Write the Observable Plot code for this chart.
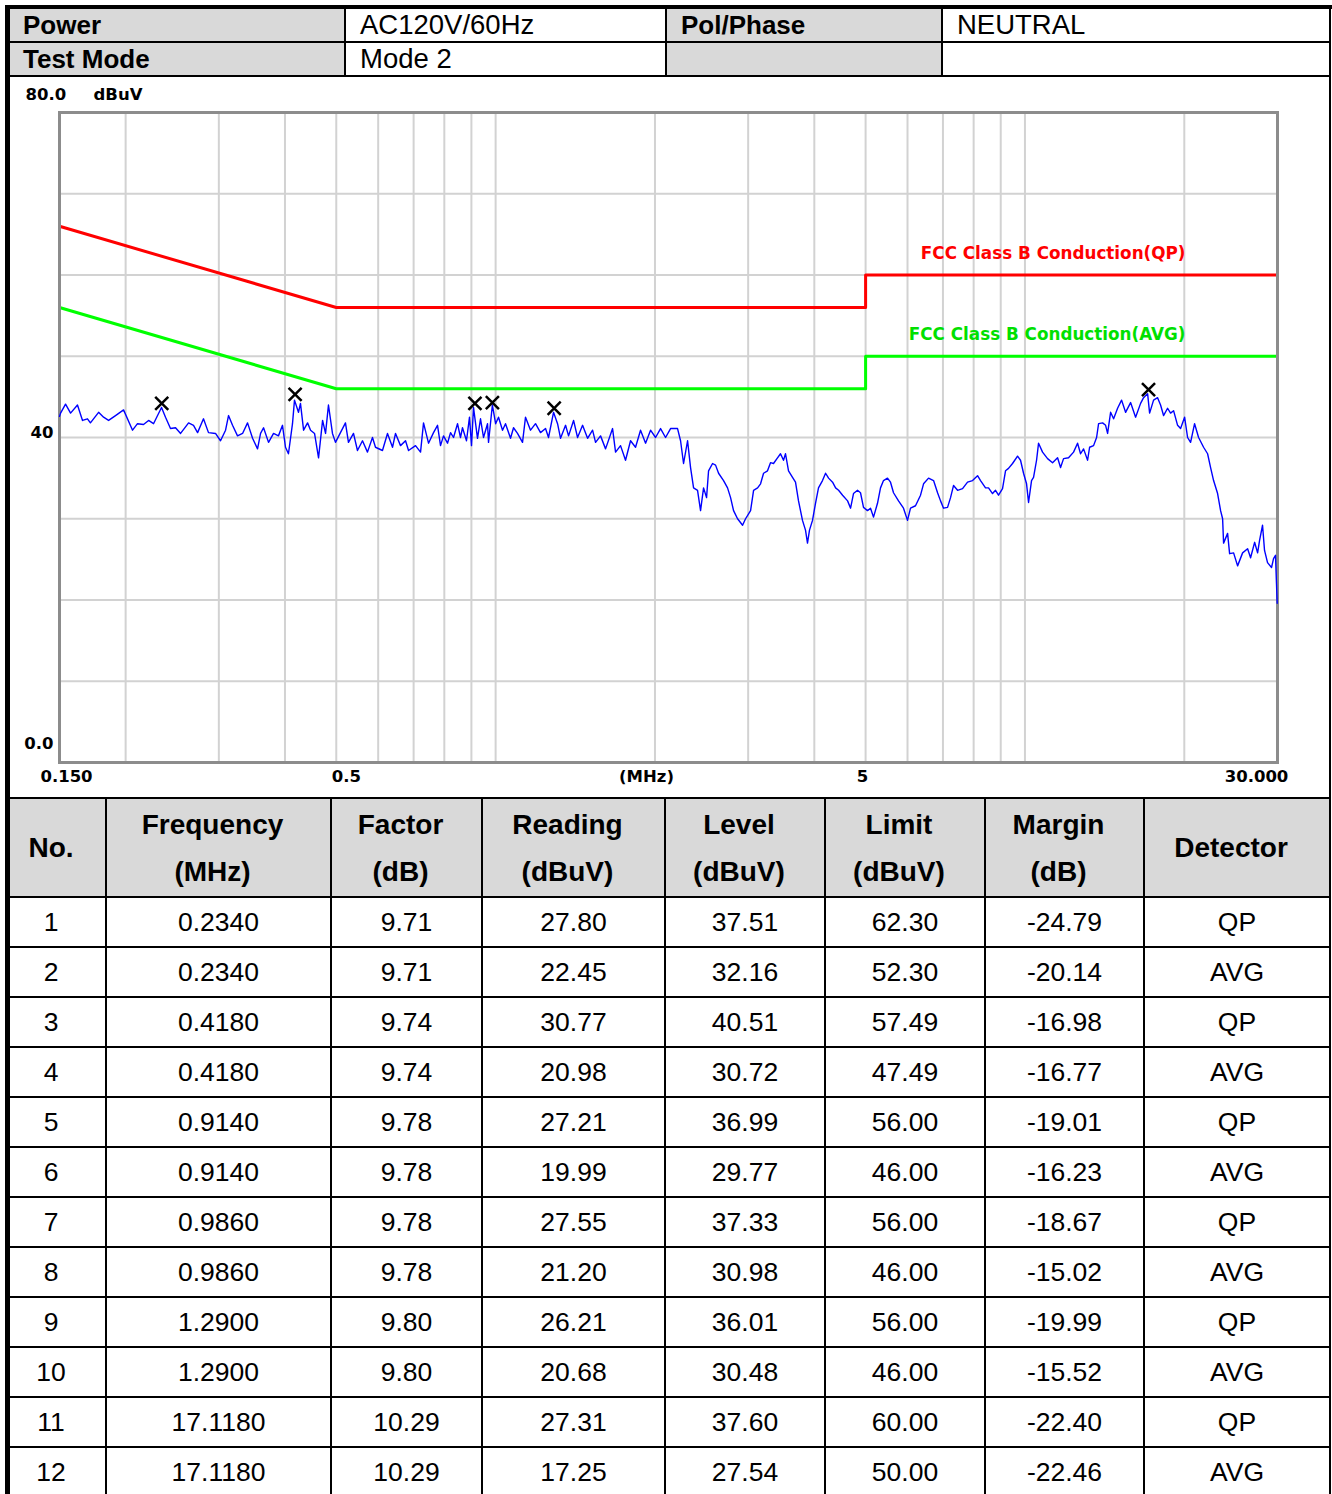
<!DOCTYPE html>
<html><head><meta charset="utf-8">
<script src="https://cdn.jsdelivr.net/npm/d3@7"></script>
<script src="https://cdn.jsdelivr.net/npm/@observablehq/plot@0.6"></script>
<style>
html,body{margin:0;padding:0;background:#fff;}
body{width:1332px;height:1494px;overflow:hidden;position:relative;font-family:"Liberation Sans",Arial,Helvetica,sans-serif;color:#000;}
.c{position:absolute;display:flex;align-items:center;white-space:nowrap;box-sizing:border-box;}
#chart{position:absolute;left:0;top:76px;width:1332px;height:722px;}
#chart svg{display:block;}
</style>
</head><body>
<div id="chart"></div>
<script>
// ---------- data ----------
const infoLabels = ["Power", "Test Mode"];
const infoValues = ["AC120V/60Hz", "Mode 2"];
const infoLabels2 = ["Pol/Phase", ""];
const infoValues2 = ["NEUTRAL", ""];

const columnTitles = ["No.", "Frequency", "Factor", "Reading", "Level", "Limit", "Margin", "Detector"];
const columnUnits  = ["", "(MHz)", "(dB)", "(dBuV)", "(dBuV)", "(dBuV)", "(dB)", ""];

const rowNo     = [1, 2, 3, 4, 5, 6, 7, 8, 9, 10, 11, 12];
const rowFreq   = [0.2340, 0.2340, 0.4180, 0.4180, 0.9140, 0.9140, 0.9860, 0.9860, 1.2900, 1.2900, 17.1180, 17.1180];
const rowFactor = [9.71, 9.71, 9.74, 9.74, 9.78, 9.78, 9.78, 9.78, 9.80, 9.80, 10.29, 10.29];
const rowReading= [27.80, 22.45, 30.77, 20.98, 27.21, 19.99, 27.55, 21.20, 26.21, 20.68, 27.31, 17.25];
const rowLevel  = [37.51, 32.16, 40.51, 30.72, 36.99, 29.77, 37.33, 30.98, 36.01, 30.48, 37.60, 27.54];
const rowLimit  = [62.30, 52.30, 57.49, 47.49, 56.00, 46.00, 56.00, 46.00, 56.00, 46.00, 60.00, 50.00];
const rowMargin = [-24.79, -20.14, -16.98, -16.77, -19.01, -16.23, -18.67, -15.02, -19.99, -15.52, -22.40, -22.46];
const rowDet    = ["QP", "AVG", "QP", "AVG", "QP", "AVG", "QP", "AVG", "QP", "AVG", "QP", "AVG"];

// chart
const qpName = "FCC Class B Conduction(QP)";
const avgName = "FCC Class B Conduction(AVG)";
const limitFreq = [0.15, 0.5, 5, 5, 30];
const qpLevel   = [66, 56, 56, 60, 60];
const avgLevel  = [56, 46, 46, 50, 50];

const markerFreq  = [0.234, 0.418, 0.914, 0.986, 1.29, 17.118];
const markerLevel = [44.2, 45.3, 44.2, 44.3, 43.6, 45.9];

const gridFreq  = [0.2, 0.3, 0.4, 0.5, 0.6, 0.7, 0.8, 0.9, 1, 2, 3, 4, 5, 6, 7, 8, 9, 10, 20];
const gridLevel = [10, 20, 30, 40, 50, 60, 70];
const yTickValues = [80, 40, 0];
const yTickLabels = ["80.0", "40", "0.0"];
const yUnit = "dBuV";
const xTickValues = [0.15, 0.5, 5, 30];
const xTickLabels = ["0.150", "0.5", "5", "30.000"];
const xUnit = "(MHz)";

// measured trace [MHz, dBuV]
const trace = [
[0.1500,42.6],[0.1507,43.0],[0.1540,44.1],[0.1574,43.0],[0.1622,44.0],[0.1658,42.1],[0.1694,42.3],[0.1716,41.8],[0.1778,43.1],[0.1817,42.5],[0.1857,42.1],[0.1914,42.7],[0.1982,43.4],[0.2061,40.9],[0.2106,41.7],[0.2162,41.6],[0.2210,42.1],[0.2258,41.7],[0.2298,42.7],[0.2338,43.7],[0.2379,42.5],[0.2431,41.1],[0.2485,41.2],[0.2540,40.5],[0.2630,41.8],[0.2687,41.5],[0.2735,40.6],[0.2806,42.3],[0.2868,40.6],[0.2957,40.5],[0.3022,39.6],[0.3089,40.9],[0.3129,42.7],[0.3184,41.5],[0.3254,40.2],[0.3326,40.5],[0.3399,41.8],[0.3474,39.9],[0.3550,38.6],[0.3597,40.5],[0.3644,41.2],[0.3724,39.4],[0.3806,40.5],[0.3888,40.2],[0.3957,41.5],[0.4009,38.8],[0.4061,38.0],[0.4133,41.7],[0.4169,44.6],[0.4242,43.1],[0.4279,44.2],[0.4337,40.9],[0.4413,41.8],[0.4471,40.9],[0.4549,40.5],[0.4629,37.5],[0.4711,42.1],[0.4772,40.5],[0.4833,44.0],[0.4918,40.5],[0.4983,39.4],[0.5092,40.6],[0.5204,41.8],[0.5272,39.4],[0.5389,40.5],[0.5483,38.4],[0.5604,39.6],[0.5727,38.2],[0.5853,40.0],
[0.5930,38.8],[0.6113,38.4],[0.6248,40.5],[0.6386,38.8],[0.6470,40.5],[0.6612,39.0],[0.6758,39.6],[0.6847,38.4],[0.7058,39.0],[0.7214,38.2],[0.7308,41.8],[0.7469,39.3],[0.7633,40.6],[0.7767,41.5],[0.7869,39.0],[0.7972,40.2],[0.8112,39.3],[0.8219,40.6],[0.8327,40.0],[0.8473,41.7],[0.8583,40.0],[0.8658,41.2],[0.8810,39.6],[0.8926,42.5],[0.9004,39.0],[0.9083,43.7],[0.9242,39.9],[0.9364,42.3],[0.9487,40.0],[0.9654,41.7],[0.9696,39.4],[0.9860,44.0],[1.0000,41.7],[1.0127,42.5],[1.0305,40.9],[1.0440,41.7],[1.0670,39.9],[1.0810,41.2],[1.0999,40.5],[1.1242,39.4],[1.1389,42.5],[1.1640,40.9],[1.1896,41.7],[1.2157,40.6],[1.2425,41.1],[1.2588,40.0],[1.2865,43.1],[1.3092,41.7],[1.3264,39.9],[1.3556,41.5],[1.3734,40.2],[1.4037,42.1],[1.4283,40.0],[1.4598,41.5],[1.4918,39.9],[1.5246,40.9],[1.5446,39.4],[1.5785,40.2],[1.6133,38.6],[1.6632,41.1],[1.6850,38.2],[1.7219,39.0],[1.7597,37.2],[1.7984,39.6],[1.8380,38.8],[1.8784,40.9],[1.9200,39.3],[1.9620,40.9],[2.0052,40.0],[2.0494,41.1],[2.0944,40.0],[2.1404,41.1],[2.1874,41.1],
[2.2065,41.1],[2.2356,39.6],[2.2649,36.8],[2.3048,39.6],[2.3350,36.3],[2.3658,33.8],[2.4070,33.5],[2.4387,31.0],[2.4708,33.8],[2.5033,32.6],[2.5252,35.9],[2.5695,36.8],[2.6033,36.6],[2.6375,35.6],[2.6955,34.7],[2.7425,33.8],[2.7789,32.6],[2.8152,31.0],[2.8647,30.0],[2.9277,29.2],[2.9661,30.0],[3.0315,31.0],[3.0714,33.5],[3.1254,33.8],[3.1662,34.3],[3.2079,35.6],[3.2634,35.9],[3.3061,36.9],[3.3495,36.8],[3.4083,37.5],[3.4531,38.0],[3.4985,37.2],[3.5291,38.0],[3.5756,35.9],[3.6383,35.1],[3.6859,34.5],[3.7344,32.2],[3.7996,29.8],[3.8497,28.6],[3.8832,27.0],[3.9172,28.6],[3.9688,29.8],[4.0209,31.9],[4.0736,33.8],[4.1452,34.7],[4.2012,35.6],[4.2561,35.0],[4.3308,34.5],[4.3880,33.8],[4.4456,33.5],[4.5235,32.9],[4.6233,32.2],[4.6836,31.3],[4.7435,33.1],[4.8270,33.5],[4.8905,33.2],[4.9545,31.4],[5.0415,31.0],[5.1080,31.3],[5.1750,30.2],[5.2655,31.9],[5.3350,33.8],[5.4050,34.7],[5.4996,35.0],[5.5722,34.5],[5.6454,33.2],[5.7696,32.2],[5.8962,31.3],[6.0000,29.8],[6.0786,31.3],[6.2124,31.6],[6.3497,32.9],[6.4337,34.3],[6.5751,35.0],[6.7200,34.7],[6.8376,33.2],[6.9272,32.2],[7.0183,31.3],[7.1414,31.4],[7.2352,32.6],[7.3304,34.1],[7.4592,33.5],[7.6232,33.7],[7.7904,34.5],[7.9618,34.7],[8.1368,35.3],[8.2440,34.7],[8.4240,33.8],[8.5347,33.8],[8.6850,33.1],[8.7984,33.5],[8.9145,32.9],[9.0711,33.7],
[9.1899,35.9],[9.3105,36.2],[9.4743,36.8],[9.683,37.7],[9.810,37.2],[9.939,35.6],[10.070,34.3],[10.158,32.0],[10.291,34.7],[10.381,35.1],[10.518,37.2],[10.610,39.3],[10.796,38.2],[11.034,37.4],[11.276,36.9],[11.525,37.5],[11.676,36.3],[11.829,37.4],[12.089,37.5],[12.355,38.2],[12.572,39.3],[12.737,38.0],[12.905,38.6],[13.133,37.2],[13.248,38.8],[13.479,39.0],[13.657,40.0],[13.776,41.7],[14.018,41.8],[14.203,41.5],[14.326,40.5],[14.515,43.1],[14.706,42.3],[14.963,43.6],[15.226,44.6],[15.493,43.1],[15.834,44.3],[16.182,42.5],[16.538,44.2],[16.755,44.9],[17.050,45.4],[17.200,43.0],[17.498,44.6],[17.806,44.9],[18.039,44.0],[18.275,42.7],[18.598,43.6],[18.842,43.0],[19.089,43.3],[19.426,41.5],[19.680,41.1],[20.026,42.5],[20.290,40.0],[20.556,39.4],[20.916,41.7],[21.284,40.0],[21.751,38.8],[22.134,38.0],[22.425,36.3],[22.719,34.7],[23.118,33.1],[23.421,31.0],[23.628,30.0],[23.729,27.0],[24.146,28.2],[24.357,25.7],[24.785,25.8],[25.219,24.2],[25.774,25.8],[26.341,26.3],[26.686,25.2],[27.157,27.1],[27.513,25.8],[27.745,27.3],[28.110,29.2],[28.355,26.1],[28.728,24.6],[29.232,24.0],[29.487,25.1],[29.739,25.5],[29.870,22.0],[29.960,19.6]
];

// ---------- chart ----------
const qp = limitFreq.map((f, i) => ({f, v: qpLevel[i]}));
const avg = limitFreq.map((f, i) => ({f, v: avgLevel[i]}));
const markers = markerFreq.map((f, i) => ({f, v: markerLevel[i]}));
const traceData = trace.map(([f, v]) => ({f, v}));

const chartFont = "'DejaVu Sans', sans-serif";
const T = (data, opts) => Plot.text(data, {fontFamily: chartFont, fontWeight: "bold", fontSize: 16.5, fill: "black", ...opts});

const yTicks = yTickValues.map((v, i) => ({v, t: yTickLabels[i]}));
const yOffsets = [-18, -5, -19];
const xTicks = xTickValues.map((f, i) => ({f, t: xTickLabels[i]}));
const xOffsets = [7, 10, -3, -21];

const chart = Plot.plot({
  width: 1332, height: 722,
  marginLeft: 59, marginRight: 55, marginTop: 36, marginBottom: 36,
  x: {type: "log", domain: [0.15, 30], axis: null},
  y: {domain: [0, 80], axis: null},
  style: {background: "white", overflow: "visible"},
  marks: [
    Plot.ruleX(gridFreq, {stroke: "#d2d2d2", strokeWidth: 2}),
    Plot.ruleY(gridLevel, {stroke: "#d2d2d2", strokeWidth: 2}),
    Plot.line(qp, {x: "f", y: "v", stroke: "#ff0000", strokeWidth: 3}),
    Plot.line(avg, {x: "f", y: "v", stroke: "#00ff00", strokeWidth: 3}),
    Plot.frame({stroke: "#8c8c8c", strokeWidth: 3}),
    Plot.line(traceData, {x: "f", y: "v", stroke: "#0000ff", strokeWidth: 1.4}),
    Plot.dot(markers, {x: "f", y: "v", symbol: "times", r: 6, stroke: "black", strokeWidth: 2.5}),
    // y labels
    T([yTicks[0]], {y: "v", text: "t", frameAnchor: "left", textAnchor: "start", dx: -34, dy: yOffsets[0]}),
    T([yTicks[0]], {y: "v", text: () => yUnit, frameAnchor: "left", textAnchor: "start", dx: 34, dy: yOffsets[0]}),
    T([yTicks[1]], {y: "v", text: "t", frameAnchor: "left", textAnchor: "end", dx: -6, dy: yOffsets[1]}),
    T([yTicks[2]], {y: "v", text: "t", frameAnchor: "left", textAnchor: "end", dx: -6, dy: yOffsets[2]}),
    // x labels
    ...xTicks.map((d, i) => T([d], {x: "f", text: "t", frameAnchor: "bottom", textAnchor: "middle", dx: xOffsets[i], dy: 19})),
    T([xUnit], {text: d => d, frameAnchor: "bottom", textAnchor: "middle", dx: -22, dy: 19}),
    // limit names
    T([qpName], {y: () => qpLevel[qpLevel.length - 1], text: d => d, frameAnchor: "right", textAnchor: "end", dx: -92, dy: -21, fill: "#ff0000", fontSize: 16.8}),
    T([avgName], {y: () => avgLevel[avgLevel.length - 1], text: d => d, frameAnchor: "right", textAnchor: "end", dx: -92, dy: -22, fill: "#00e000", fontSize: 16.8})
  ]
});
document.getElementById("chart").appendChild(chart);

// ---------- tables ----------
const root = document.body;
function box(l, t, w, h, bg) {
  const d = document.createElement("div");
  d.style.cssText = `position:absolute;left:${l}px;top:${t}px;width:${w}px;height:${h}px;background:${bg};`;
  root.appendChild(d); return d;
}
function cell(l, t, w, h, html, css) {
  const d = document.createElement("div");
  d.className = "c";
  d.style.cssText += `left:${l}px;top:${t}px;width:${w}px;height:${h}px;${css}`;
  d.innerHTML = html;
  root.appendChild(d); return d;
}
const GRAY = "#d9d9d9";

// info table
const hc = [8, 345, 666, 942, 1330];
const hr = [8, 42, 76];
for (let r = 0; r < 2; r++) {
  const vals = [infoLabels[r], infoValues[r], infoLabels2[r], infoValues2[r]];
  for (let c = 0; c < 4; c++) {
    const isLabel = c % 2 === 0;
    box(hc[c], hr[r], hc[c + 1] - hc[c], hr[r + 1] - hr[r], isLabel ? GRAY : "#fff");
    cell(hc[c] + 15, hr[r], hc[c + 1] - hc[c] - 15, hr[r + 1] - hr[r], vals[c],
      isLabel ? "font-weight:bold;font-size:26px;" : "font-size:27.5px;");
  }
}
hc.forEach(x => box(x - 1, 8, 2, 68, "#000"));
hr.forEach(y => box(8, y - 1, 1322, 2, "#000"));

// data table
const dc = [8, 106, 331, 482, 665, 825, 985, 1144, 1330];
const dr = [798, 897];
for (let i = 0; i < rowNo.length; i++) dr.push(dr[dr.length - 1] + 50);
box(8, 798, 1322, 99, GRAY);
columnTitles.forEach((t, c) => {
  const html = columnUnits[c] ? `${t}<br>${columnUnits[c]}` : t;
  cell(dc[c] - 6, 798, dc[c + 1] - dc[c], 99, `<div style="text-align:center;width:100%;line-height:47px;">${html}</div>`,
    "justify-content:center;font-weight:bold;font-size:28px;");
});
const fmt = [
  i => String(rowNo[i]),
  i => rowFreq[i].toFixed(4),
  i => rowFactor[i].toFixed(2),
  i => rowReading[i].toFixed(2),
  i => rowLevel[i].toFixed(2),
  i => rowLimit[i].toFixed(2),
  i => rowMargin[i].toFixed(2),
  i => rowDet[i]
];
for (let i = 0; i < rowNo.length; i++) {
  for (let c = 0; c < 8; c++) {
    cell(dc[c] + (c === 0 ? -6 : 0), dr[i + 1], dc[c + 1] - dc[c], 50, fmt[c](i),
      "justify-content:center;font-size:26.5px;");
  }
}
dc.forEach(x => box(x - 1, 798, 2, 700, "#000"));
dr.forEach(y => box(8, y - 1, 1322, 2, "#000"));

// outer frame
box(5, 5, 1327, 4, "#000");
box(5, 5, 5, 1489, "#000");
box(1329, 5, 2, 1489, "#000");
</script>
</body></html>
